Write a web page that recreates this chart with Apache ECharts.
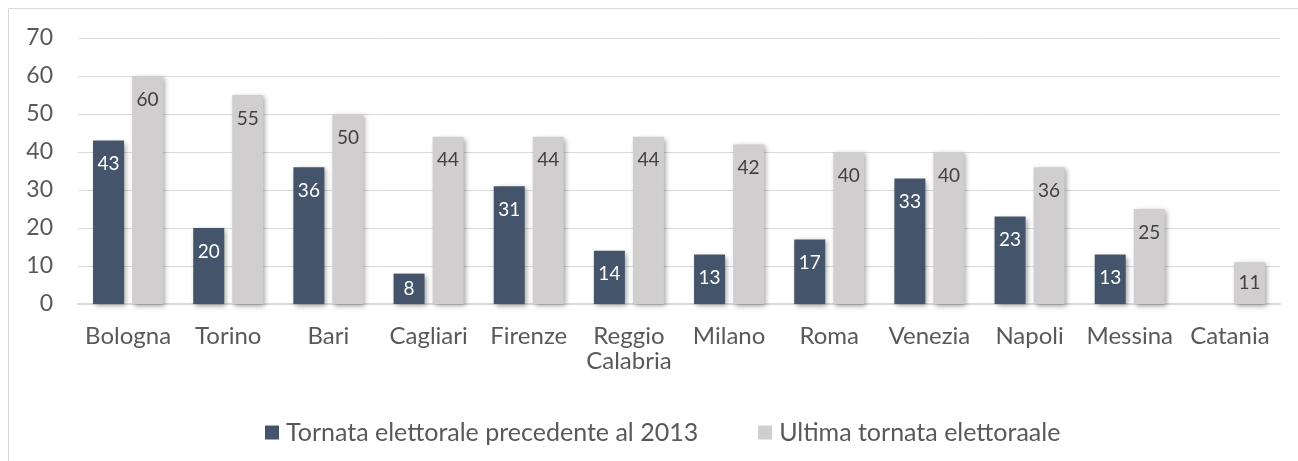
<!DOCTYPE html>
<html>
<head>
<meta charset="utf-8">
<script src="https://cdn.jsdelivr.net/npm/echarts@6/dist/echarts.min.js"></script>
<style>
  html, body { margin: 0; padding: 0; background: #ffffff; }
  #chart { width: 1298px; height: 461px; }
</style>
</head>
<body>
<div id="chart"></div>
<script>
// Città e valori delle due tornate elettorali
const categories = ['Bologna', 'Torino', 'Bari', 'Cagliari', 'Firenze', 'Reggio\nCalabria',
  'Milano', 'Roma', 'Venezia', 'Napoli', 'Messina', 'Catania'];
const seriesNames = ['Tornata elettorale precedente al 2013', 'Ultima tornata elettoraale'];
const precedente = [43, 20, 36, 8, 31, 14, 13, 17, 33, 23, 13, null];
const ultima = [60, 55, 50, 44, 44, 44, 42, 40, 40, 36, 25, 11];
const yTicks = [0, 10, 20, 30, 40, 50, 60, 70];

const FONT = 'Lato, "Open Sans", sans-serif';
const TEXT = '#595959';

// Short bars get their label centred, taller ones near the top
function toItems(values, labelColor) {
  return values.map(v => {
    if (v == null) return { value: null };
    const small = v < 12;
    return {
      value: v,
      label: {
        position: small ? 'inside' : 'insideTop',
        distance: small ? 0 : 14,
        color: labelColor
      }
    };
  });
}

const barShadow = {
  shadowBlur: 5,
  shadowOffsetX: 2,
  shadowOffsetY: 2,
  shadowColor: 'rgba(0,0,0,0.38)'
};

const chart = echarts.init(document.getElementById('chart'), null, { renderer: 'canvas' });
chart.setOption({
  backgroundColor: '#ffffff',
  animation: false,
  textStyle: { fontFamily: FONT },
  graphic: [{
    type: 'rect',
    silent: true,
    shape: { x: 8.5, y: 8.5, width: 1400, height: 600 },
    style: { fill: 'none', stroke: '#d9d9d9', lineWidth: 1 }
  }],
  grid: { left: 78, right: 18, top: 38, bottom: 157, containLabel: false },
  legend: {
    top: 415,
    left: 260,
    itemWidth: 14,
    itemHeight: 14,
    itemGap: 60,
    icon: 'rect',
    textStyle: { fontFamily: FONT, fontSize: 25, color: TEXT, padding: [0, 0, 0, 2] },
    data: seriesNames
  },
  xAxis: {
    type: 'category',
    data: categories,
    axisTick: { show: false },
    axisLine: { show: true, lineStyle: { color: '#d9d9d9', width: 2 } },
    axisLabel: {
      fontFamily: FONT, fontSize: 24, color: TEXT, margin: 20, lineHeight: 25,
      interval: 0
    }
  },
  yAxis: {
    type: 'value',
    min: yTicks[0],
    max: yTicks[yTicks.length - 1],
    interval: yTicks[1] - yTicks[0],
    axisLine: { show: false },
    axisTick: { show: false },
    splitLine: { lineStyle: { color: '#d9d9d9', width: 1 } },
    axisLabel: { fontFamily: FONT, fontSize: 23, color: TEXT, margin: 25 }
  },
  series: [
    {
      name: seriesNames[0],
      type: 'bar',
      barWidth: 31,
      barGap: '26%',
      itemStyle: Object.assign({ color: '#44546a' }, barShadow),
      label: { show: true, fontFamily: FONT, fontSize: 19, color: '#ffffff' },
      data: toItems(precedente, '#ffffff')
    },
    {
      name: seriesNames[1],
      type: 'bar',
      barWidth: 31,
      itemStyle: Object.assign({ color: '#d0cece' }, barShadow),
      label: { show: true, fontFamily: FONT, fontSize: 19, color: '#404040' },
      data: toItems(ultima, '#404040')
    }
  ]
});
</script>
</body>
</html>
